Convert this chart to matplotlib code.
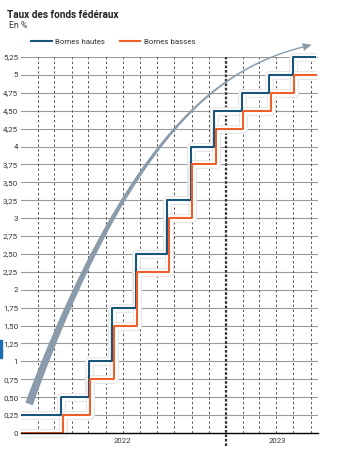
import numpy as np
import pandas as pd
import matplotlib
matplotlib.use("Agg")
import matplotlib.pyplot as plt
import matplotlib.patheffects as pe
import matplotlib.transforms as mtransforms
from matplotlib.lines import Line2D
from matplotlib.patches import Polygon

plt.rcParams['font.family'] = ['Roboto', 'DejaVu Sans']

# fed funds target range (start date of each level, last entry = end of chart)
dates = pd.to_datetime(['2022-01-01', '2022-03-17', '2022-05-05', '2022-06-16',
                        '2022-07-28', '2022-09-22', '2022-11-03', '2022-12-15',
                        '2023-02-02', '2023-03-23', '2023-05-04', '2023-06-14'])
upper = [0.25, 0.5, 1.0, 1.75, 2.5, 3.25, 4.0, 4.5, 4.75, 5.0, 5.25, 5.25]
lower = [0.0, 0.25, 0.75, 1.5, 2.25, 3.0, 3.75, 4.25, 4.5, 4.75, 5.0, 5.0]

yticks = [0, 0.25, 0.5, 0.75, 1, 1.25, 1.5, 1.75, 2, 2.25, 2.5, 2.75, 3,
          3.25, 3.5, 3.75, 4, 4.25, 4.5, 4.75, 5, 5.25]
ylabels = ['0', '0,25', '0,50', '0,75', '1', '1,25', '1,50', '1,75', '2', '2,25',
           '2,50', '2,75', '3', '3,25', '3,50', '3,75', '4', '4,25', '4,50',
           '4,75', '5', '5,25']
years = ['2022', '2023']
year_label_pos = pd.to_datetime(['2022-07-01', '2023-04-02'])

blue = '#18557a'
orange = '#ee5f2a'
W, H = 341, 450

fig = plt.figure(figsize=(W / 100, H / 100), dpi=100)
ax = fig.add_axes([21 / W, (H - 433) / H, (318 - 21) / W, (433 - 57) / H])
ax.set_xlim(pd.Timestamp('2022-01-01'), pd.Timestamp('2023-06-14'))
ax.set_ylim(0, 5.25)

# grid
for y in yticks[1:]:
    ax.axhline(y, color='#9a9a9a', lw=0.8, zorder=1)
for m in pd.date_range('2022-02-01', '2023-06-01', freq='MS'):
    if m == pd.Timestamp('2023-01-01'):
        continue
    ax.axvline(m, color='#555555', lw=0.7, ls=(0, (2.5, 2.5)), zorder=1)
ax.axvline(pd.Timestamp('2023-01-01'), ymin=-0.035, ymax=1, color='#333333',
           lw=1.6, ls=(0, (1.2, 0.8)), zorder=1, clip_on=False)

# curved arrow (pixel coords, origin top-left)
pix = mtransforms.Affine2D().scale(1 / W, -1 / H).translate(0, 1) + fig.transFigure
P0 = np.array([29, 404.]); P1 = np.array([133, 122.6])
P2 = np.array([225.4, 67.]); P3 = np.array([303, 47.])
t = np.linspace(0, 1, 200)[:, None]
pts = (1 - t) ** 3 * P0 + 3 * t * (1 - t) ** 2 * P1 + 3 * t ** 2 * (1 - t) * P2 + t ** 3 * P3
d = np.gradient(pts, axis=0)
d /= np.linalg.norm(d, axis=1)[:, None]
nrm = np.column_stack([-d[:, 1], d[:, 0]])
w = (1.4 + 6.6 * (1 - t[:, 0]) ** 2.4) / 2
poly = np.vstack([pts + nrm * w[:, None], (pts - nrm * w[:, None])[::-1]])
ax.add_patch(Polygon(poly, closed=True, color='#8a9cab', lw=0, transform=pix,
                     clip_on=False, zorder=1.5))
de = d[-1]; ne = nrm[-1]
head = np.array([P3 + de * 9, P3 + ne * 4, P3 - ne * 4])
ax.add_patch(Polygon(head, closed=True, color='#8a9cab', lw=0, transform=pix,
                     clip_on=False, zorder=1.5))

# step lines with halo
clip = mtransforms.TransformedBbox(mtransforms.Bbox([[0, -0.02], [1, 1.02]]), ax.transAxes)
halo = [pe.Stroke(linewidth=6.3, foreground='#e4e4e4'), pe.Stroke(linewidth=4.8, foreground='white')]
tb = mtransforms.offset_copy(ax.transData, fig=fig, x=-1.5, y=0, units='points')
to = mtransforms.offset_copy(ax.transData, fig=fig, x=-0.4, y=0, units='points')
lines = []
for vals, tr in [(upper, tb), (lower, to)]:
    lines += ax.step(dates, vals, where='post', color='white', lw=1.5, transform=tr,
                     path_effects=halo, zorder=2, solid_capstyle='butt')
lines += ax.step(dates, upper, where='post', color=blue, lw=1.5, transform=tb, zorder=3,
                 solid_capstyle='butt')
lines += ax.step(dates, lower, where='post', color=orange, lw=1.5, transform=to, zorder=3,
                 solid_capstyle='butt')
for ln in lines:
    ln.set_clip_box(clip)

# axes styling
for s in ['top', 'right', 'left']:
    ax.spines[s].set_visible(False)
ax.spines['bottom'].set_color('black')
ax.spines['bottom'].set_linewidth(1.0)
ax.spines['bottom'].set_zorder(4)
ax.set_yticks(yticks)
ax.set_yticklabels(ylabels, fontsize=5.8, color='#333333')
ax.tick_params(axis='y', length=0, pad=2)
ax.set_xticks([])
for lab, pos in zip(years, year_label_pos):
    ax.text(pos, -0.11, lab, ha='center', va='center', fontsize=5.6, color='#333333')

# titles
fig.text(7 / W, 1 - 15 / H, 'Taux des fonds fédéraux', fontsize=7.2, fontweight='bold',
         color='#222222', va='center', ha='left')
fig.text(9 / W, 1 - 25 / H, 'En %', fontsize=6.2, color='#333333', va='center', ha='left')

handles = [Line2D([], [], color=blue, lw=1.5), Line2D([], [], color=orange, lw=1.5)]
fig.legend(handles, ['Bornes hautes', 'Bornes basses'], loc='center left',
           bbox_to_anchor=(31 / W, 1 - 42 / H), ncol=2, frameon=False, fontsize=5.7,
           handlelength=2.6, handletextpad=0.4, columnspacing=1.9,
           borderaxespad=0, borderpad=0, labelcolor='#333333')

# small blue marker at left edge
fig.add_artist(plt.Rectangle((0, 1 - 358 / H), 2 / W, 18 / H, color='#1b6db3',
                             transform=fig.transFigure))

fig.savefig('out.png', dpi=100)
